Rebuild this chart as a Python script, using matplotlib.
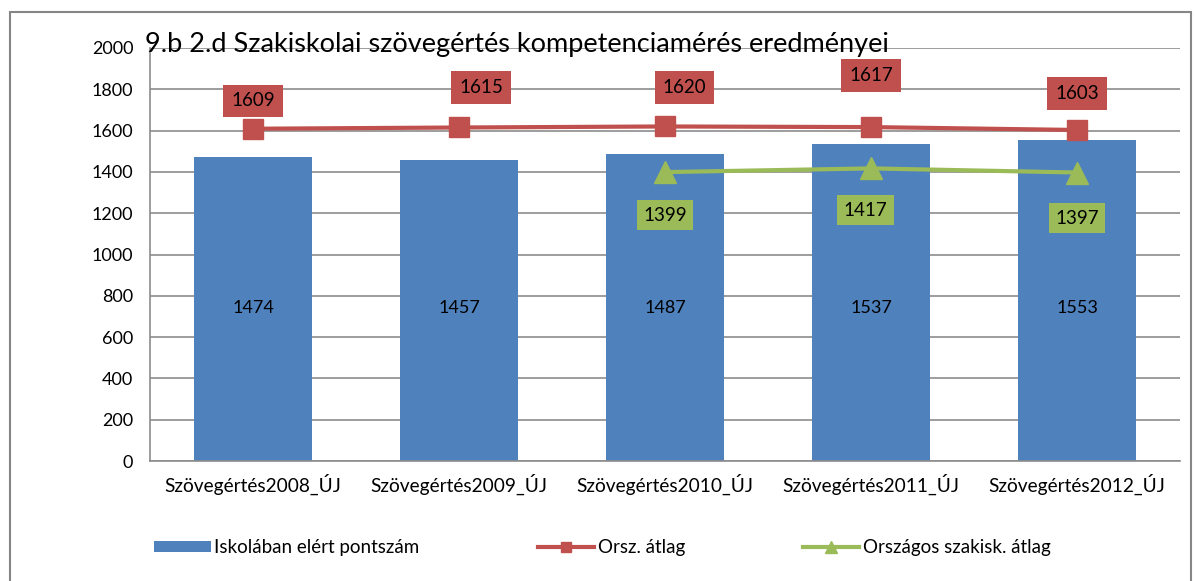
import numpy as np
import matplotlib
matplotlib.use("Agg")
import matplotlib.pyplot as plt
from matplotlib.patches import Rectangle

plt.rcParams['font.family'] = ['Lato', 'DejaVu Sans']

categories = ["Szövegértés2008_ÚJ", "Szövegértés2009_ÚJ", "Szövegértés2010_ÚJ",
              "Szövegértés2011_ÚJ", "Szövegértés2012_ÚJ"]
iskola = [1474, 1457, 1487, 1537, 1553]
orszagos = [1609, 1615, 1620, 1617, 1603]
szakisk = [np.nan, np.nan, 1399, 1417, 1397]

title = "9.b 2.d Szakiskolai szövegértés kompetenciamérés eredményei"

BLUE = "#4F81BD"
RED = "#C0504D"
GREEN = "#9BBB59"
GRID = "#8C8C8C"

# label offsets in points (dx, dy) - placed by hand like in the original
red_off = [(0, 20), (16, 29), (14, 28), (0, 37), (0, 26)]
green_off = [(0, -31), (-4, -30), (0, -33)]

fig = plt.figure(figsize=(11.96, 5.81), dpi=100)
ax = fig.add_axes([0.1254, 0.2065, 0.8612, 0.7109])

x = np.arange(len(categories))
bars = ax.bar(x, iskola, width=0.57, color=BLUE, label="Iskolában elért pontszám", zorder=2)
l1, = ax.plot(x, orszagos, color=RED, lw=3, marker='s', ms=14, label="Orsz. átlag", zorder=3)
l2, = ax.plot(x, szakisk, color=GREEN, lw=3, marker='^', ms=16, label="Országos szakisk. átlag", zorder=3)

for xi, v in zip(x, iskola):
    ax.text(xi, 740, str(v), ha='center', va='center', fontsize=13, zorder=4)

for xi, v, (dx, dy) in zip(x, orszagos, red_off):
    ax.annotate(str(v), (xi, v), xytext=(dx, dy), textcoords='offset points',
                ha='center', va='center', fontsize=13.5, zorder=5,
                bbox=dict(boxstyle='square,pad=0.42', fc=RED, ec='none'))

gi = [i for i, v in enumerate(szakisk) if not np.isnan(v)]
for i, (dx, dy) in zip(gi, green_off):
    ax.annotate(str(szakisk[i]), (x[i], szakisk[i]), xytext=(dx, dy), textcoords='offset points',
                ha='center', va='center', fontsize=13.5, zorder=5,
                bbox=dict(boxstyle='square,pad=0.35', fc=GREEN, ec='none'))

ax.set_xlim(-0.5, len(categories) - 0.5)
ax.set_ylim(0, 2000)
ax.set_yticks(np.arange(0, 2001, 200))
ax.set_xticks(x)
ax.set_xticklabels(categories, fontsize=13.8)
ax.tick_params(axis='both', length=0, pad=9)
ax.tick_params(axis='y', labelsize=13, pad=12)
ax.yaxis.grid(True, color=GRID, lw=1.2, zorder=0)
ax.set_axisbelow(True)
for s in ['top', 'right']:
    ax.spines[s].set_visible(False)
for s in ['left', 'bottom']:
    ax.spines[s].set_color(GRID)
    ax.spines[s].set_linewidth(1.2)

fig.text(0.121, 0.923, title, fontsize=19.5, ha='left', va='center')

leg = fig.legend([bars, l1, l2], [bars.get_label(), l1.get_label(), l2.get_label()],
                 loc='center left', bbox_to_anchor=(0.115, 0.057), ncol=3, frameon=False,
                 fontsize=13.5, handlelength=3.0, handleheight=0.5, columnspacing=6.3,
                 handletextpad=0.2, markerscale=0.5)

fig.patches.append(Rectangle((0.008, -0.05), 0.988, 1.03, transform=fig.transFigure,
                             fill=False, ec="#868686", lw=1.5))

fig.savefig("out.png", dpi=100)
